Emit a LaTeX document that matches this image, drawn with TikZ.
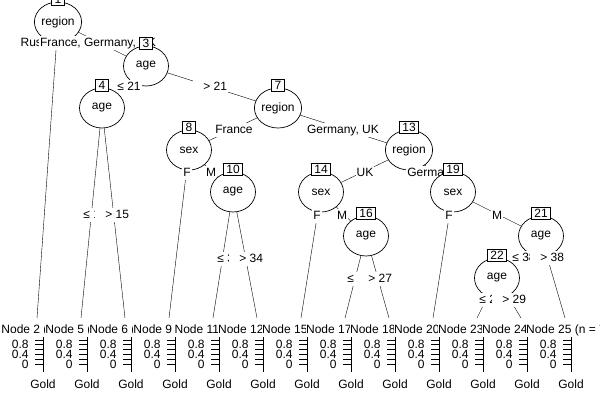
\documentclass[tikz,border=0pt]{standalone}
\usepackage{fontspec}
\setmainfont{Liberation Sans}
\usetikzlibrary{shapes.geometric}
\pgfdeclarelayer{edges}
\pgfsetlayers{edges,main}

\begin{document}
\begin{tikzpicture}[
    x=1pt, y=-1pt,
    line width=0.7pt,
    font=\fontsize{12}{14}\selectfont,
    % Styles for the parts of the tree
    split/.style={ellipse, draw, fill=white, inner sep=0pt, minimum width=45pt, minimum height=40pt},
    idbox/.style={rectangle, draw, fill=white, inner xsep=3pt, inner ysep=1.8pt, yshift=2pt, text height=8.6pt, text depth=0pt},
    elab/.style={rectangle, fill=white, inner xsep=1pt, inner ysep=1.5pt, text height=9pt, text depth=2.5pt},
    leftlab/.style={elab, anchor=west},
    rightlab/.style={elab, anchor=west, execute at begin node=\hspace*{9pt}},
    header/.style={rectangle, fill=white, inner xsep=0.5pt, inner ysep=1.5pt, text height=9pt, text depth=2.5pt},
    ticklab/.style={rectangle, inner sep=0pt, anchor=east}
]
  \useasboundingbox (0,0) rectangle (600,400);

  % --- ROOT: REGION ---
  \node[split] (n1) at (58,22) {region};
  \node[idbox] (b1) at (n1.north) {1};
  \node[elab] (l2) at (39,43) {Russia};
  \node[elab] (l3) at (98,43) {France, Germany, UK};

  % --- AGE BRANCH ---
  \node[split] (n3) at (146,66) {age};
  \node[idbox] (b3) at (n3.north) {3};
  \node[leftlab] (l4) at (116,87) {≤ 21};
  \node[rightlab] (l7) at (193,87) {> 21};

  \node[split] (n4) at (102,108) {age};
  \node[idbox] (b4) at (n4.north) {4};
  \node[leftlab] (l5) at (82,215) {≤ 15};
  \node[rightlab] (l6) at (95,215) {> 15};

  % --- REGION / SEX BRANCHES ---
  \node[split] (n7) at (278,108) {region};
  \node[idbox] (b7) at (n7.north) {7};
  \node[elab] (l8) at (234,130) {France};
  \node[elab] (l13) at (343,130) {Germany, UK};

  \node[split] (n8) at (189,150) {sex};
  \node[idbox] (b8) at (n8.north) {8};
  \node[elab] (l9) at (187,173) {F};
  \node[elab] (l10) at (211,173) {M};

  \node[split] (n10) at (233,192) {age};
  \node[idbox] (b10) at (n10.north) {10};
  \node[leftlab] (l11) at (216,259) {≤ 34};
  \node[rightlab] (l12) at (229,259) {> 34};

  \node[split] (n13) at (409,150) {region};
  \node[idbox] (b13) at (n13.north) {13};
  \node[elab] (l14) at (365,173) {UK};
  \node[elab] (l19) at (432,173) {Germany};

  \node[split] (n14) at (321,192) {sex};
  \node[idbox] (b14) at (n14.north) {14};
  \node[elab] (l15) at (317,216) {F};
  \node[elab] (l16) at (342,216) {M};

  \node[split] (n16) at (366,236) {age};
  \node[idbox] (b16) at (n16.north) {16};
  \node[leftlab] (l17) at (346,279) {≤ 27};
  \node[rightlab] (l18) at (358,279) {> 27};

  \node[split] (n19) at (453,192) {sex};
  \node[idbox] (b19) at (n19.north) {19};
  \node[elab] (l20) at (449,216) {F};
  \node[elab] (l21) at (497,216) {M};

  \node[split] (n21) at (541,236) {age};
  \node[idbox] (b21) at (n21.north) {21};
  \node[leftlab] (l22) at (511,258) {≤ 38};
  \node[rightlab] (l25) at (530,258) {> 38};

  \node[split] (n22) at (497,278) {age};
  \node[idbox] (b22) at (n22.north) {22};
  \node[leftlab] (l23) at (478,300) {≤ 29};
  \node[rightlab] (l24) at (492,300) {> 29};

  % --- TERMINAL PANELS ---
  \foreach \id/\x in {2/37, 5/81, 6/125, 9/169, 11/213, 12/257, 15/301, 17/345, 18/389, 20/433, 23/477, 24/521, 25/565} {
    \coordinate (t\id) at (\x,318);
    \node[header] (h\id) at (\x+3,330) {Node \id{} (n = 7)};
    \draw (\x+6,337) -- (\x+6,372);
    \foreach \v in {0,...,5}
      \draw (\x-2,364-4.8*\v) -- (\x+6,364-4.8*\v);
    \node[ticklab] at (\x-8,344.8) {0.8};
    \node[ticklab] at (\x-8,354.4) {0.4};
    \node[ticklab] at (\x-8,364) {0};
    \node (g\id) at (\x+6,384) {Gold};
  }

  % --- EDGES ---
  \begin{pgfonlayer}{edges}
  % Root splits
  \draw (n1.center) -- (t2);
  \draw (n1.center) -- (n3.center);
  % Age splits
  \draw (n3.center) -- (n4.center);
  \draw (n3.center) -- (n7.center);
  \draw (n4.center) -- (t5);
  \draw (n4.center) -- (t6);
  % Region splits
  \draw (n7.center) -- (n8.center);
  \draw (n7.center) -- (n13.center);
  \draw (n8.center) -- (t9);
  \draw (n8.center) -- (n10.center);
  \draw (n10.center) -- (t11);
  \draw (n10.center) -- (t12);
  \draw (n13.center) -- (n14.center);
  \draw (n13.center) -- (n19.center);
  \draw (n14.center) -- (t15);
  \draw (n14.center) -- (n16.center);
  \draw (n16.center) -- (t17);
  \draw (n16.center) -- (t18);
  \draw (n19.center) -- (t20);
  \draw (n19.center) -- (n21.center);
  \draw (n21.center) -- (n22.center);
  \draw (n21.center) -- (t25);
  \draw (n22.center) -- (t23);
  \draw (n22.center) -- (t24);
  \end{pgfonlayer}

\end{tikzpicture}
\end{document}
